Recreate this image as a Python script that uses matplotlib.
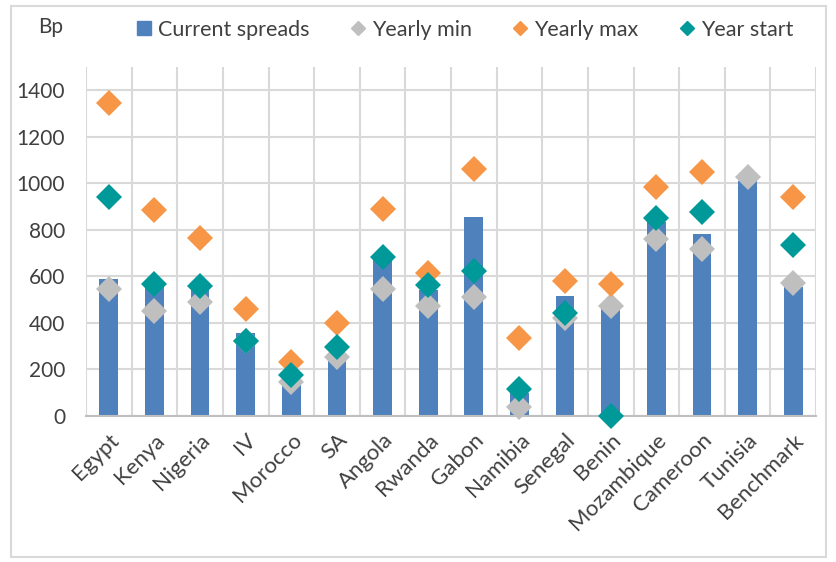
import matplotlib
matplotlib.use("Agg")
import matplotlib.pyplot as plt
import matplotlib.transforms as mtransforms
import numpy as np
from matplotlib.lines import Line2D
from matplotlib.patches import Rectangle

plt.rcParams['font.family'] = ['Lato', 'DejaVu Sans']

# data (bp)
countries = ["Egypt", "Kenya", "Nigeria", "IV", "Morocco", "SA", "Angola", "Rwanda",
             "Gabon", "Namibia", "Senegal", "Benin", "Mozambique", "Cameroon", "Tunisia", "Benchmark"]
current_spreads = [590, 560, 545, 355, 150, 250, 670, 540, 856, 100, 515, 460, 835, 781, 1010, 555]
yearly_min = [544, 451, 488, 320, 147, 255, 544, 472, 512, 37, 421, 472, 759, 716, 1025, 570]
yearly_max = [1343, 886, 763, 461, 233, 400, 887, 615, 1060, 333, 580, 567, 982, 1046, np.nan, 942]
year_start = [942, 567, 560, 322, 176, 295, 684, 562, 622, 116, 441, 0, 852, 875, np.nan, 733]

c_bar = "#4f81bd"
c_min = "#bfbfbf"
c_max = "#f79646"
c_start = "#009999"
grid_c = "#d9d9d9"
txt_c = "#404040"

fig = plt.figure(figsize=(8.36, 5.62), dpi=100)
ax = fig.add_axes([86/836, 1 - 416/562, 730/836, (416 - 66.7)/562])

x = np.arange(len(countries))
ax.bar(x, current_spreads, width=0.41, color=c_bar, zorder=2)
for vals, col in [(yearly_min, c_min), (yearly_max, c_max), (year_start, c_start)]:
    ax.plot(x, vals, linestyle="none", marker="D", markersize=13.5, color=col,
            markeredgewidth=0, zorder=3, clip_on=False)

ax.set_xlim(-0.5, len(countries) - 0.5)
ax.set_ylim(0, 1500)
ax.set_yticks(range(0, 1401, 200))
ax.set_xticks(x)
ax.set_xticklabels(countries, rotation=45, ha="right", rotation_mode="anchor", fontsize=16)
# nudge labels a bit left so the top corner sits under the tick
shift = mtransforms.ScaledTranslation(-4/100, -2/100, fig.dpi_scale_trans)
for lab in ax.get_xticklabels():
    lab.set_transform(lab.get_transform() + shift)

ax.set_xticks(np.arange(-0.5, len(countries), 1), minor=True)
ax.grid(axis="y", which="major", color=grid_c, linewidth=1.5, zorder=0)
ax.grid(axis="x", which="minor", color=grid_c, linewidth=1.5, zorder=0)
ax.grid(axis="x", which="major", visible=False)

for s in ["top", "right", "left"]:
    ax.spines[s].set_visible(False)
ax.spines["bottom"].set_color("#bfbfbf")
ax.spines["bottom"].set_linewidth(1.5)
ax.tick_params(axis="both", which="both", length=0, colors=txt_c)
ax.tick_params(axis="y", pad=15, labelsize=15)
ax.tick_params(axis="x", pad=10)

fig.text(38/836, 1 - 27/562, "Bp", fontsize=15, color=txt_c, va="center")

handles = [
    Line2D([], [], linestyle="none", marker="s", markersize=10, color=c_bar),
    Line2D([], [], linestyle="none", marker="D", markersize=7.5, color=c_min),
    Line2D([], [], linestyle="none", marker="D", markersize=7.5, color=c_max),
    Line2D([], [], linestyle="none", marker="D", markersize=7.5, color=c_start),
]
labels = ["Current spreads", "Yearly min", "Yearly max", "Year start"]
leg = fig.legend(handles, labels, loc="center", bbox_to_anchor=(465/836, 1 - 30/562), ncol=4,
                 frameon=False, fontsize=15.5, handlelength=0.7, handletextpad=0.3,
                 columnspacing=1.9, labelcolor=txt_c)

fig.patches.append(Rectangle((11/836, 1 - 557/562), 815/836, 551/562, transform=fig.transFigure,
                             fill=False, edgecolor=grid_c, linewidth=1.5))

fig.savefig("out.png", dpi=100)
